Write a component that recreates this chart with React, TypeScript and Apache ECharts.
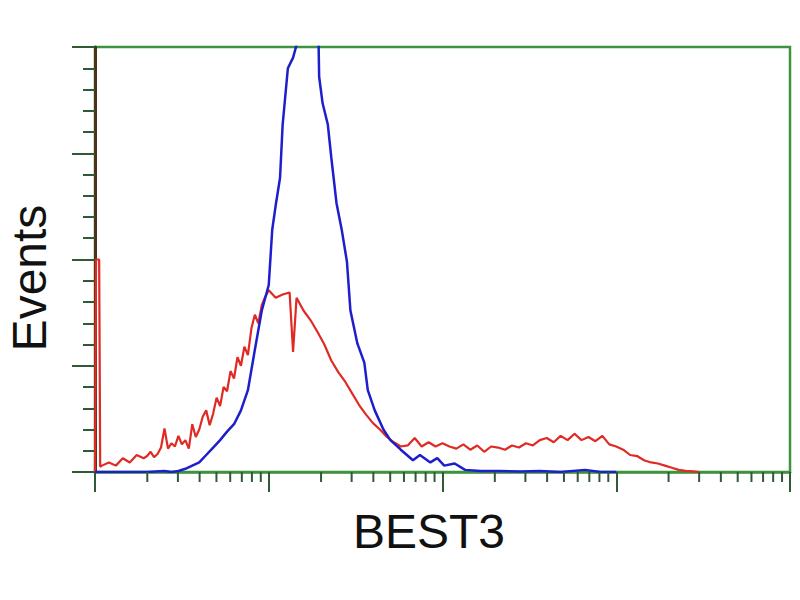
import React, { useEffect, useRef } from "react";
import * as echarts from "echarts";

// x values are log10 of fluorescence intensity (decades 10^0 .. 10^4)
const redLog = [0, 0.006, 0.024, 0.03, 0.04, 0.08, 0.12, 0.16, 0.2, 0.24, 0.28, 0.3, 0.32, 0.34, 0.36, 0.38, 0.4, 0.42, 0.44, 0.46, 0.48, 0.5, 0.52, 0.54, 0.56, 0.58, 0.6, 0.62, 0.64, 0.66, 0.68, 0.7, 0.72, 0.74, 0.76, 0.78, 0.8, 0.82, 0.84, 0.86, 0.88, 0.9, 0.92, 0.94, 0.96, 0.98, 1.0, 1.04, 1.08, 1.12, 1.14, 1.16, 1.2, 1.24, 1.28, 1.32, 1.36, 1.4, 1.44, 1.48, 1.52, 1.56, 1.6, 1.64, 1.68, 1.72, 1.76, 1.8, 1.84, 1.88, 1.92, 1.96, 2.0, 2.04, 2.08, 2.12, 2.16, 2.2, 2.24, 2.28, 2.32, 2.36, 2.4, 2.44, 2.48, 2.52, 2.56, 2.6, 2.64, 2.68, 2.72, 2.76, 2.8, 2.84, 2.88, 2.92, 2.96, 3.0, 3.04, 3.08, 3.12, 3.16, 3.2, 3.24, 3.28, 3.32, 3.36, 3.4, 3.44, 3.48];
const redEvents = [0, 200, 200, 5, 6, 9, 6, 13, 9, 16, 13, 15, 19, 14, 17, 23, 41, 22, 27, 24, 34, 26, 30, 22, 45, 33, 40, 52, 58, 44, 55, 70, 62, 80, 76, 95, 88, 108, 100, 118, 110, 135, 148, 140, 157, 165, 171, 164, 167, 169, 113, 164, 152, 143, 132, 120, 105, 94, 85, 74, 63, 54, 46, 40, 33, 28, 24, 25, 32, 24, 28, 24, 27, 24, 22, 26, 21, 25, 19, 24, 23, 21, 25, 23, 27, 25, 30, 32, 28, 34, 30, 36, 30, 33, 29, 34, 26, 24, 21, 16, 15, 11, 9, 8, 6, 4, 2, 1, 0.5, 0];

const blueLog = [0, 0.3, 0.4, 0.44, 0.48, 0.52, 0.56, 0.6, 0.64, 0.68, 0.72, 0.76, 0.8, 0.84, 0.88, 0.92, 0.96, 1.0, 1.02, 1.04, 1.065, 1.08, 1.11, 1.14, 1.16, 1.2, 1.24, 1.283, 1.29, 1.31, 1.34, 1.36, 1.39, 1.42, 1.45, 1.47, 1.51, 1.55, 1.57, 1.61, 1.66, 1.7, 1.76, 1.83, 1.87, 1.93, 1.97, 2.01, 2.07, 2.13, 2.22, 2.33, 2.45, 2.56, 2.68, 2.82, 2.91, 3.0];
const blueEvents = [0, 0, 1, 0, 1, 3, 6, 9, 16, 23, 30, 38, 45, 58, 77, 115, 152, 176, 228, 251, 277, 327, 380, 390, 402, 440, 445, 440, 372, 347, 327, 296, 253, 228, 198, 152, 121, 103, 77, 58, 40, 30, 21, 11, 16, 9, 13, 6, 8, 2, 1, 1, 0.5, 1, 0, 2, 0, 0];

const decades = [0, 1, 2, 3];
const minorSteps = [2, 3, 4, 5, 6, 7, 8, 9];

const xTitle = "BEST3";
const yTitle = "Events";

export default function App() {
  const ref = useRef<HTMLDivElement>(null);
  useEffect(() => {
    if (!ref.current) return;
    const chart = echarts.init(ref.current, null, { renderer: "svg" });
    const green = "#3f933f";
    const tickColor = "#2f5a35";
    const minorTicks: number[][] = [];
    decades.forEach((d) => minorSteps.forEach((k) => minorTicks.push([d + Math.log10(k), 0])));
    chart.setOption({
      animation: false,
      backgroundColor: "#ffffff",
      grid: {
        left: 95,
        right: 10,
        top: 47,
        bottom: 128,
        show: true,
        borderColor: green,
        borderWidth: 2.5,
        backgroundColor: "transparent",
      },
      xAxis: {
        type: "value",
        min: 0,
        max: 4,
        interval: 1,
        axisLine: { show: true, lineStyle: { color: green, width: 2.5 } },
        axisTick: { show: true, length: 20, lineStyle: { color: tickColor, width: 2 } },
        axisLabel: { show: false },
        splitLine: { show: false },
      },
      yAxis: {
        type: "value",
        min: 0,
        max: 400,
        interval: 100,
        axisLine: { show: true, lineStyle: { color: "#4a3318", width: 3 } },
        axisTick: { show: true, length: 23, lineStyle: { color: tickColor, width: 2 } },
        minorTick: { show: true, splitNumber: 5, length: 12, lineStyle: { color: tickColor, width: 2 } },
        axisLabel: { show: false },
        splitLine: { show: false },
        minorSplitLine: { show: false },
      },
      graphic: [
        {
          type: "text",
          x: 29,
          y: 278,
          rotation: Math.PI / 2,
          style: {
            text: yTitle,
            fontFamily: "Liberation Sans, Arial, sans-serif",
            fontSize: 48,
            fill: "#111",
            align: "center",
            verticalAlign: "middle",
          },
        },
        {
          type: "text",
          x: 429,
          y: 531,
          style: {
            text: xTitle,
            fontFamily: "Liberation Sans, Arial, sans-serif",
            fontSize: 48,
            fill: "#111",
            align: "center",
            verticalAlign: "middle",
          },
        },
      ],
      series: [
        {
          type: "line",
          data: redLog.map((x, i) => [x, redEvents[i]]),
          symbol: "none",
          lineStyle: { color: "#e02a24", width: 2.2 },
          clip: true,
          z: 3,
        },
        {
          type: "line",
          data: blueLog.map((x, i) => [x, blueEvents[i]]),
          symbol: "none",
          lineStyle: { color: "#1e1ecc", width: 2.5 },
          clip: true,
          z: 4,
        },
        {
          type: "custom",
          data: minorTicks,
          silent: true,
          z: 5,
          renderItem: (_params: any, api: any) => {
            const p = api.coord([api.value(0), 0]);
            return {
              type: "line",
              shape: { x1: p[0], y1: p[1], x2: p[0], y2: p[1] + 10 },
              style: { stroke: tickColor, lineWidth: 2 },
            };
          },
        },
      ],
    });
    return () => chart.dispose();
  }, []);
  return (
    <div
      ref={ref}
      style={{ position: "fixed", left: 0, top: 0, width: 800, height: 600 }}
    />
  );
}
